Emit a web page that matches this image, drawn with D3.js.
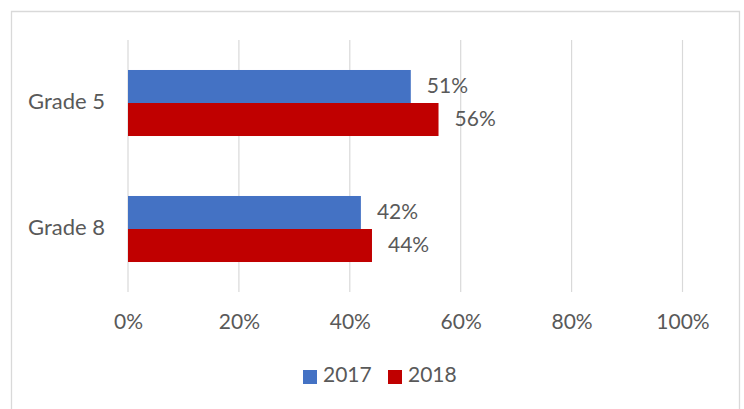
<!DOCTYPE html>
<html>
<head>
<meta charset="utf-8">
<script src="https://cdn.jsdelivr.net/npm/d3@7"></script>
<style>
  html, body { margin: 0; padding: 0; background: #fff; }
  svg { display: block; }
  text { font-family: Lato, "Open Sans", sans-serif; fill: #595959; }
</style>
</head>
<body>
<svg id="chart" width="744" height="409"></svg>
<script>
const categories = ["Grade 5", "Grade 8"];
const seriesNames = ["2017", "2018"];
const values2017 = [0.51, 0.42];
const values2018 = [0.56, 0.44];
const xTicks = [0, 0.2, 0.4, 0.6, 0.8, 1.0];
const colors = ["#4472C4", "#C00000"];

const svg = d3.select("#chart");
const W = 744, H = 409;

// chart border (open at bottom, as in reference)
svg.append("path")
  .attr("d", `M11.5,${H + 2} L11.5,11.5 L739.5,11.5 L739.5,${H + 2}`)
  .attr("fill", "none")
  .attr("stroke", "#d9d9d9")
  .attr("stroke-width", 1.3);

const plot = { left: 128, right: 682.5, top: 40, bottom: 292 };

const x = d3.scaleLinear().domain([0, 1]).range([plot.left, plot.right]);
const y = d3.scaleBand().domain(categories).range([plot.top, plot.bottom]).paddingInner(0.476).paddingOuter(0.238);
const ySub = d3.scaleBand().domain(seriesNames).range([0, y.bandwidth()]);

// gridlines
svg.append("g")
  .selectAll("line")
  .data(xTicks)
  .join("line")
  .attr("x1", d => x(d)).attr("x2", d => x(d))
  .attr("y1", plot.top).attr("y2", plot.bottom)
  .attr("stroke", "#d9d9d9")
  .attr("stroke-width", 1.2);

// x axis labels
const xAxis = d3.axisBottom(x).tickValues(xTicks).tickFormat(d3.format(".0%")).tickSize(0).tickPadding(0);
const gx = svg.append("g").attr("transform", `translate(0,${plot.bottom})`).call(xAxis);
gx.select(".domain").remove();
gx.selectAll("text")
  .attr("dy", null)
  .attr("y", 32)
  .attr("dominant-baseline", "middle")
  .style("font-size", "21px")
  .style("font-family", "Lato, sans-serif")
  .attr("fill", "#595959");

// y axis labels
const yAxis = d3.axisLeft(y).tickSize(0).tickPadding(0);
const gy = svg.append("g").attr("transform", `translate(${plot.left - 23},0)`).call(yAxis);
gy.select(".domain").remove();
gy.selectAll("text")
  .attr("dy", null)
  .attr("dominant-baseline", "middle")
  .style("font-size", "22px")
  .style("font-family", "Lato, sans-serif")
  .attr("fill", "#595959");

// bars
const data = categories.map((c, i) => ({
  cat: c,
  vals: [
    { s: seriesNames[0], v: values2017[i], c: colors[0] },
    { s: seriesNames[1], v: values2018[i], c: colors[1] }
  ]
}));

const groups = svg.append("g").selectAll("g")
  .data(data)
  .join("g")
  .attr("transform", d => `translate(0,${y(d.cat)})`);

groups.selectAll("rect")
  .data(d => d.vals)
  .join("rect")
  .attr("x", x(0))
  .attr("y", d => ySub(d.s))
  .attr("width", d => x(d.v) - x(0))
  .attr("height", ySub.bandwidth())
  .attr("fill", d => d.c);

groups.selectAll("text.lbl")
  .data(d => d.vals)
  .join("text")
  .attr("class", "lbl")
  .attr("x", d => x(d.v) + 16)
  .attr("y", d => ySub(d.s) + ySub.bandwidth() / 2 + 1.5)
  .attr("dominant-baseline", "middle")
  .style("font-size", "21px")
  .text(d => d3.format(".0%")(d.v));

// legend
const legend = svg.append("g").attr("transform", "translate(303,377)");
const legendX = [0, 85];
seriesNames.forEach((s, i) => {
  const g = legend.append("g").attr("transform", `translate(${legendX[i]},0)`);
  g.append("rect").attr("x", 0).attr("y", -7).attr("width", 14).attr("height", 14).attr("fill", colors[i]);
  g.append("text").attr("x", 20).attr("y", 0).attr("dominant-baseline", "middle")
    .style("font-size", "21px").text(s);
});
</script>
</body>
</html>
